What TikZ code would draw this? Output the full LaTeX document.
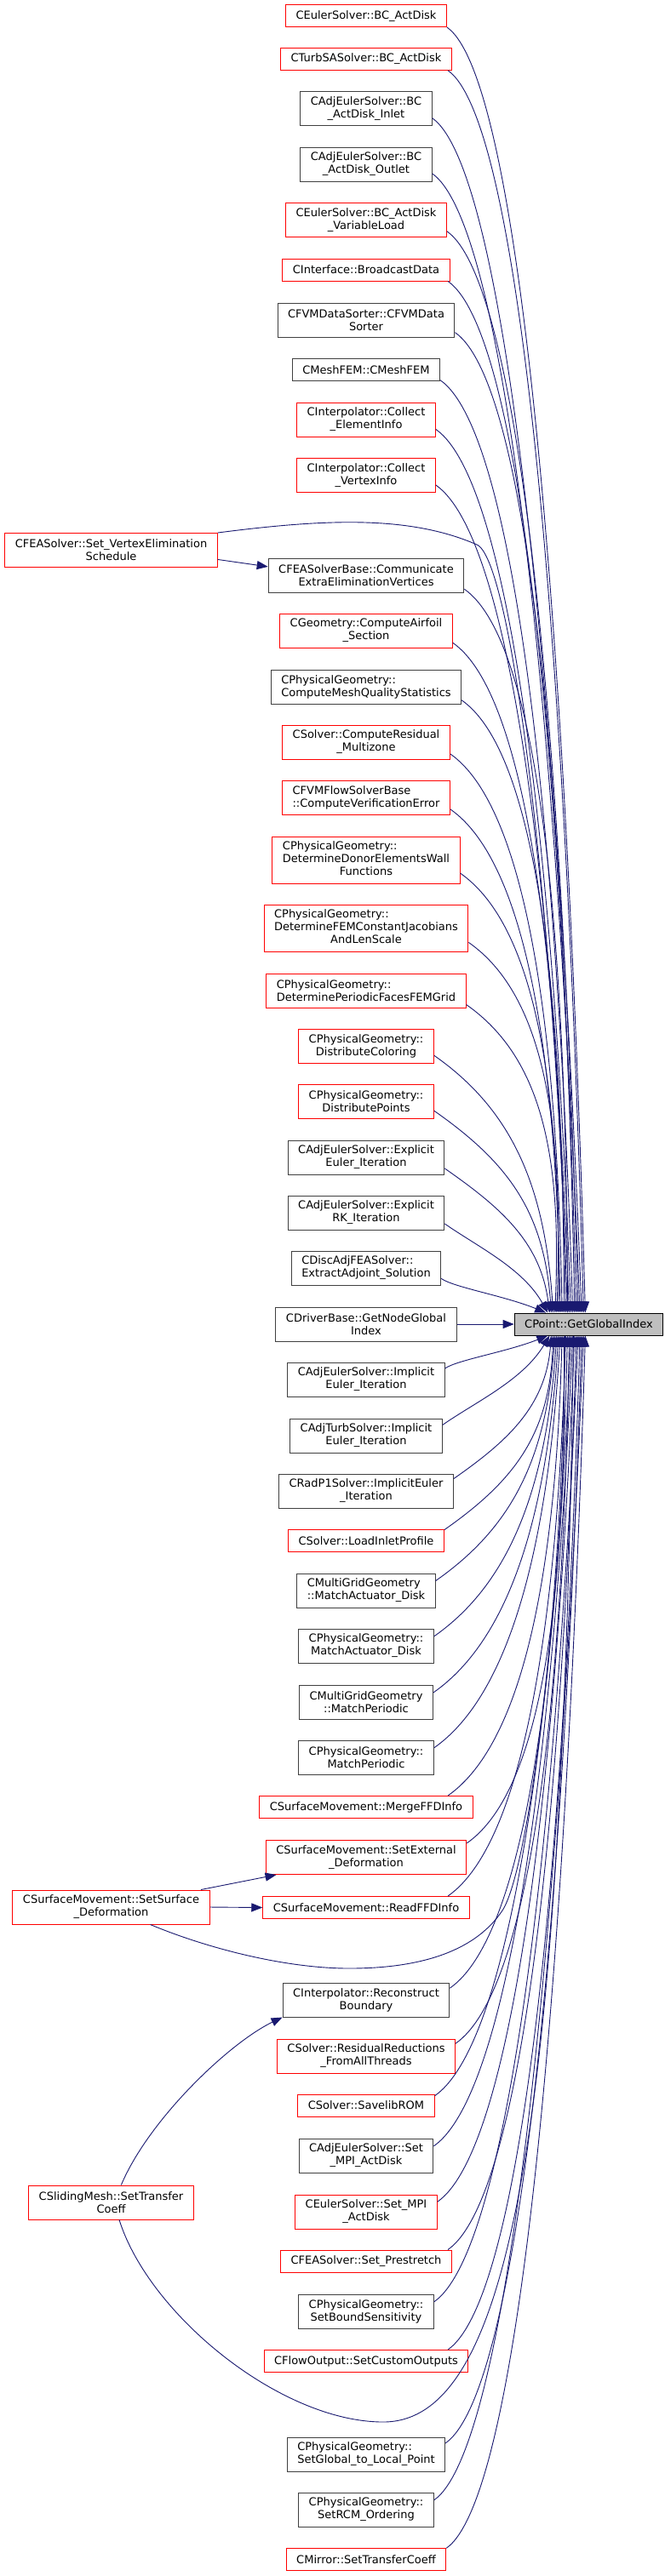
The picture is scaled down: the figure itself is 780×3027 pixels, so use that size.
\documentclass[tikz,border=0pt]{standalone}
\usepackage{fontspec}
\setmainfont{DejaVu Sans}
\usetikzlibrary{arrows.meta, calc}
\definecolor{edgeblue}{RGB}{25,25,112}
\definecolor{nodered}{RGB}{255,0,0}
\definecolor{nodeblack}{RGB}{64,64,64}
\definecolor{focusgray}{RGB}{191,191,191}
\newcommand{\threeline}[3]{\begin{tabular}{@{}l@{}}#1\\#2\\\multicolumn{1}{@{}c@{}}{#3}\end{tabular}}

\begin{document}
\begin{tikzpicture}[x=1pt, y=1pt,
  fn/.style={draw, fill=white, line width=1pt, inner xsep=12pt, inner ysep=3pt, minimum height=26pt, align=center, font=\fontsize{13}{15}\selectfont},
  rd/.style={draw=nodered},
  bk/.style={draw=nodeblack},
  two/.style={minimum height=40pt},
  three/.style={minimum height=55pt},
  call/.style={draw=edgeblue, line width=0.9pt, -{Triangle[length=13pt,width=10pt]}}]
  \fill[white] (0,0) rectangle (780,-3027);
  \useasboundingbox (0,0) rectangle (780,-3027);

  \node[fn,draw=black,fill=focusgray] (gi) at (691.5,-1556) {CPoint::GetGlobalIndex};

  \node[fn,rd] (c1) at (430,-18.7) {CEulerSolver::BC\_ActDisk};
  \node[fn,rd] (c2) at (430,-69.3) {CTurbSASolver::BC\_ActDisk};
  \node[fn,bk,two] (c3) at (430,-127.8) {CAdjEulerSolver::BC\\\_ActDisk\_Inlet};
  \node[fn,bk,two] (c4) at (430,-193) {CAdjEulerSolver::BC\\\_ActDisk\_Outlet};
  \node[fn,rd,two] (c5) at (430,-258.5) {CEulerSolver::BC\_ActDisk\\\_VariableLoad};
  \node[fn,rd] (c6) at (430,-317) {CInterface::BroadcastData};
  \node[fn,bk,two] (c7) at (430,-376) {CFVMDataSorter::CFVMData\\Sorter};
  \node[fn,bk] (c8) at (430,-434.5) {CMeshFEM::CMeshFEM};
  \node[fn,rd,two] (c9) at (430,-493) {CInterpolator::Collect\\\_ElementInfo};
  \node[fn,rd,two] (c10) at (430,-558.5) {CInterpolator::Collect\\\_VertexInfo};
  \node[fn,bk,two] (c11) at (430,-676) {CFEASolverBase::Communicate\\ExtraEliminationVertices};
  \node[fn,rd,two] (c12) at (430,-741) {CGeometry::ComputeAirfoil\\\_Section};
  \node[fn,bk,two,align=left] (c13) at (430,-807) {CPhysicalGeometry::\\ComputeMeshQualityStatistics};
  \node[fn,rd,two] (c14) at (430,-872) {CSolver::ComputeResidual\\\_Multizone};
  \node[fn,rd,two,align=left] (c15) at (430,-937) {CFVMFlowSolverBase\\::ComputeVerificationError};
  \node[fn,rd,three] (c16) at (430,-1010.5) {\threeline{CPhysicalGeometry::}{DetermineDonorElementsWall}{Functions}};
  \node[fn,rd,three] (c17) at (430,-1090.5) {\threeline{CPhysicalGeometry::}{DetermineFEMConstantJacobians}{AndLenScale}};
  \node[fn,rd,two,align=left] (c18) at (430,-1164) {CPhysicalGeometry::\\DeterminePeriodicFacesFEMGrid};
  \node[fn,rd,two] (c19) at (430,-1229) {CPhysicalGeometry::\\DistributeColoring};
  \node[fn,rd,two] (c20) at (430,-1294) {CPhysicalGeometry::\\DistributePoints};
  \node[fn,bk,two] (c21) at (430,-1360) {CAdjEulerSolver::Explicit\\Euler\_Iteration};
  \node[fn,bk,two] (c22) at (430,-1425) {CAdjEulerSolver::Explicit\\RK\_Iteration};
  \node[fn,bk,two,align=left] (c23) at (430,-1490) {CDiscAdjFEASolver::\\ExtractAdjoint\_Solution};
  \node[fn,bk,two] (c24) at (430,-1556) {CDriverBase::GetNodeGlobal\\Index};
  \node[fn,bk,two] (c25) at (430,-1621) {CAdjEulerSolver::Implicit\\Euler\_Iteration};
  \node[fn,bk,two] (c26) at (430,-1687) {CAdjTurbSolver::Implicit\\Euler\_Iteration};
  \node[fn,bk,two] (c27) at (430,-1752) {CRadP1Solver::ImplicitEuler\\\_Iteration};
  \node[fn,rd] (c28) at (430,-1810.5) {CSolver::LoadInletProfile};
  \node[fn,bk,two,align=left] (c29) at (430,-1869) {CMultiGridGeometry\\::MatchActuator\_Disk};
  \node[fn,bk,two] (c30) at (430,-1934) {CPhysicalGeometry::\\MatchActuator\_Disk};
  \node[fn,bk,two] (c31) at (430,-2000) {CMultiGridGeometry\\::MatchPeriodic};
  \node[fn,bk,two] (c32) at (430,-2065) {CPhysicalGeometry::\\MatchPeriodic};
  \node[fn,rd] (c33) at (430,-2123.5) {CSurfaceMovement::MergeFFDInfo};
  \node[fn,rd,two] (c34) at (430,-2182.5) {CSurfaceMovement::SetExternal\\\_Deformation};
  \node[fn,rd] (c35) at (430,-2241.5) {CSurfaceMovement::ReadFFDInfo};
  \node[fn,bk,two] (c36) at (430,-2350) {CInterpolator::Reconstruct\\Boundary};
  \node[fn,rd,two] (c37) at (430,-2416) {CSolver::ResidualReductions\\\_FromAllThreads};
  \node[fn,rd] (c38) at (430,-2474) {CSolver::SavelibROM};
  \node[fn,bk,two] (c39) at (430,-2533) {CAdjEulerSolver::Set\\\_MPI\_ActDisk};
  \node[fn,rd,two] (c40) at (430,-2599) {CEulerSolver::Set\_MPI\\\_ActDisk};
  \node[fn,rd] (c41) at (430,-2657) {CFEASolver::Set\_Prestretch};
  \node[fn,bk,two] (c42) at (430,-2716) {CPhysicalGeometry::\\SetBoundSensitivity};
  \node[fn,rd] (c43) at (430,-2774.5) {CFlowOutput::SetCustomOutputs};
  \node[fn,bk,two,align=left] (c44) at (430,-2884) {CPhysicalGeometry::\\SetGlobal\_to\_Local\_Point};
  \node[fn,bk,two] (c45) at (430,-2949) {CPhysicalGeometry::\\SetRCM\_Ordering};
  \node[fn,rd] (c46) at (430,-3007.5) {CMirror::SetTransferCoeff};

  \node[fn,rd,two] (vsched) at (130.5,-646.5) {CFEASolver::Set\_VertexElimination\\Schedule};
  \node[fn,rd,two] (surfdef) at (130.5,-2241) {CSurfaceMovement::SetSurface\\\_Deformation};
  \node[fn,rd,two] (slide) at (130.5,-2588) {CSlidingMesh::SetTransfer\\Coeff};

  \foreach \i in {1,...,23} {
    \coordinate (e) at ($(gi.north)+({-2-2.1*\i},0)$);
    \draw[call] let \p1=(c\i.-8), \p2=(e), \n1={abs(\y1-\y2)} in
      (\p1) .. controls +(-35:{min(110,0.45*\n1)}) and ($(\p2)!0.5!(\p1)+({min(60,0.3*\n1)},0)$) .. (\p2);
  }
  \foreach \i in {25,...,46} {
    \coordinate (e) at ($(gi.south)+({-2-2.1*(47-\i)},0)$);
    \draw[call] let \p1=(c\i.8), \p2=(e), \n1={abs(\y1-\y2)} in
      (\p1) .. controls +(35:{min(110,0.45*\n1)}) and ($(\p2)!0.5!(\p1)+({min(60,0.3*\n1)},0)$) .. (\p2);
  }
  \draw[call] (c24.east) -- (gi.west);

  \draw[call] (vsched.-5) -- (c11.175);
  \draw[call] (vsched.north east) .. controls (380,-610) and (480,-605) .. (560,-640)
    .. controls (600,-657) and (650,-1050) .. ($(gi.north)+(-25,0)$);

  \draw[call] (surfdef.11) -- (c34.191);
  \draw[call] (surfdef.east) -- (c35.west);
  \draw[call] (surfdef.-24) .. controls (250,-2292) and (340,-2313) .. (410,-2313)
    .. controls (500,-2313) and (560,-2290) .. (590,-2245)
    .. controls (620,-2200) and (660,-1900) .. ($(gi.south)+(-28,0)$);

  \draw[call] (slide.60) .. controls (175,-2490) and (270,-2400) .. (c36.south west);
  \draw[call] (slide.-65) .. controls (175,-2720) and (330,-2846) .. (450,-2846)
    .. controls (600,-2846) and (660,-2500) .. ($(gi.south)+(-18,0)$);
\end{tikzpicture}
\end{document}
